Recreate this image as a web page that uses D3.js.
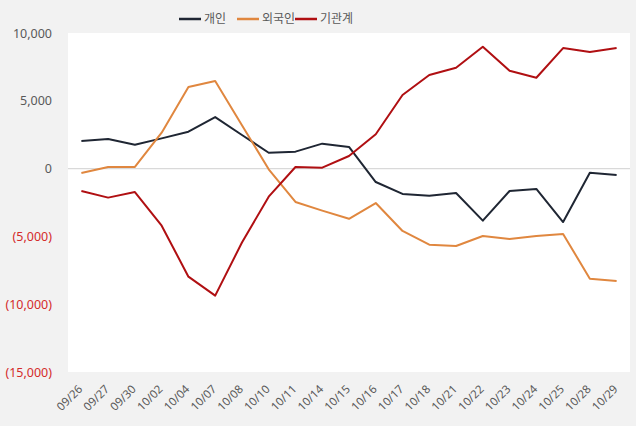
<!DOCTYPE html>
<html><head><meta charset="utf-8">
<script src="https://cdn.jsdelivr.net/npm/d3@7"></script>
<style>
html,body{margin:0;padding:0;background:#f2f2f2;}
svg{display:block;font-family:"Noto Sans CJK KR","Noto Sans",sans-serif;}
</style></head>
<body>
<svg id="c" width="636" height="426"></svg>
<script>
const categories = ["09/26","09/27","09/30","10/02","10/04","10/07","10/08","10/10","10/11","10/14","10/15","10/16","10/17","10/18","10/21","10/22","10/23","10/24","10/25","10/28","10/29"];
const individual = [2035,2180,1760,2230,2720,3800,2480,1170,1250,1840,1600,-990,-1870,-2000,-1800,-3840,-1650,-1500,-3940,-300,-470];
const foreign = [-330,120,120,2650,6020,6460,3200,-50,-2460,-3100,-3700,-2540,-4600,-5610,-5710,-4970,-5190,-4970,-4820,-8120,-8290];
const institution = [-1650,-2140,-1730,-4210,-7970,-9370,-5450,-2070,120,70,930,2530,5430,6900,7440,8990,7220,6700,8890,8600,8890];
const seriesNames = ["개인","외국인","기관계"];
const seriesColors = ["#1f2633","#e0873f","#b00f12"];
const yTicks = [10000,5000,0,-5000,-10000,-15000];

const svg = d3.select("#c");
const plot = {l:68, r:630, t:33, b:372};
svg.append("rect").attr("x",plot.l).attr("y",plot.t).attr("width",plot.r-plot.l).attr("height",plot.b-plot.t).attr("fill","#ffffff");

const x = d3.scaleBand().domain(categories).range([plot.l, plot.r]).padding(0);
const y = d3.scaleLinear().domain([-15000,10000]).range([plot.b, plot.t]);
const cx = d => x(d) + x.bandwidth()/2;

// zero line
svg.append("line").attr("x1",plot.l).attr("x2",plot.r).attr("y1",y(0)).attr("y2",y(0)).attr("stroke","#d9d9d9").attr("stroke-width",1.2);

// y axis
const fmt = v => v < 0 ? "(" + d3.format(",")(-v) + ")" : d3.format(",")(v);
const yAxis = d3.axisLeft(y).tickValues(yTicks).tickFormat(fmt).tickSize(0).tickPadding(0);
const yg = svg.append("g").attr("transform",`translate(${plot.l-16},0)`).call(yAxis);
yg.select(".domain").remove();
yg.selectAll("text").attr("font-size",12.5).attr("fill",d => d<0 ? "#d42b2b" : "#595959")
  .attr("font-family","'Noto Sans','Noto Sans CJK KR',sans-serif");

// x axis
const xAxis = d3.axisBottom(x).tickSize(0).tickPadding(0);
const xg = svg.append("g").attr("transform",`translate(0,${plot.b})`).call(xAxis);
xg.select(".domain").remove();
xg.selectAll("text").attr("font-size",11.5).attr("fill","#595959")
  .attr("font-family","'Noto Sans','Noto Sans CJK KR',sans-serif")
  .attr("text-anchor","end").attr("dy","0.35em")
  .attr("transform","translate(-1,15) rotate(-45)");

// lines
const allSeries = [individual, foreign, institution];
const line = d3.line().x((d,i)=>cx(categories[i])).y(d=>y(d));
allSeries.forEach((s,k)=>{
  svg.append("path").datum(s).attr("d",line).attr("fill","none")
    .attr("stroke",seriesColors[k]).attr("stroke-width",2).attr("stroke-linejoin","round");
});

// legend
const legendX = [179, 237, 295];
seriesNames.forEach((n,k)=>{
  const g = svg.append("g").attr("transform",`translate(${legendX[k]},19)`);
  g.append("line").attr("x1",0).attr("x2",22).attr("stroke",seriesColors[k]).attr("stroke-width",2.5);
  g.append("text").attr("x",25).attr("y",0).attr("dy","0.35em").attr("font-size",12).attr("fill","#595959").text(n);
});
</script>
</body></html>
